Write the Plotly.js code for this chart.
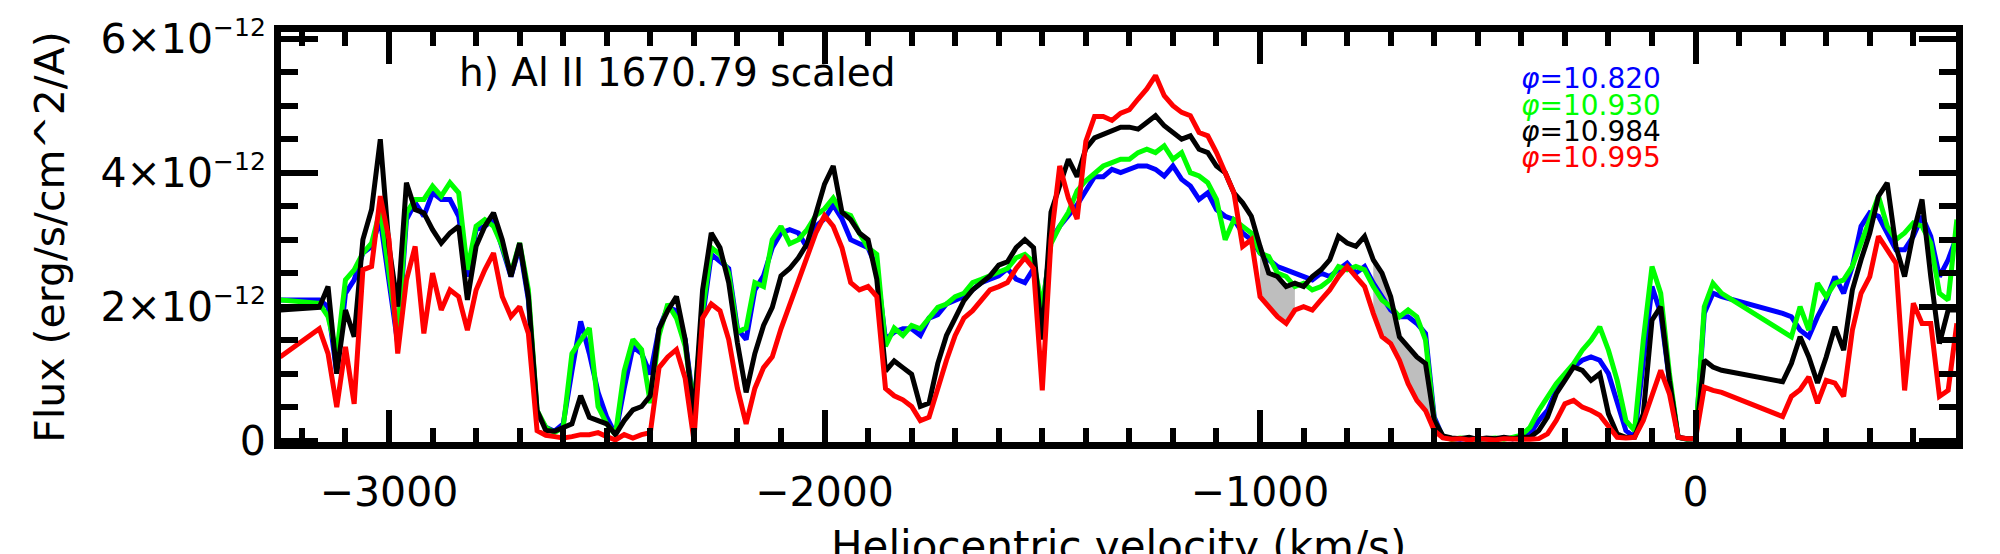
<!DOCTYPE html>
<html>
<head>
<meta charset="utf-8">
<script src="https://cdn.plot.ly/plotly-3.0.1.min.js"></script>
<style>
  body { margin: 0; background: white; }
  #graph { width: 2000px; height: 554px; }
</style>
</head>
<body>
<div id="graph"></div>
<script>
// heliocentric velocity grid (km/s); gap between 60 and 200
const velocity = [
  -3250,
  -3160, -3140, -3120, -3100, -3080, -3060, -3040, -3020, -3000, -2980,
  -2960, -2940, -2920, -2900, -2880, -2860, -2840, -2820, -2800, -2780,
  -2760, -2740, -2720, -2700, -2680, -2660, -2640, -2620, -2600, -2580,
  -2560, -2540, -2520, -2500, -2480, -2460, -2440, -2420, -2400, -2380,
  -2360, -2340, -2320, -2300, -2280, -2260, -2240, -2220, -2200, -2180,
  -2160, -2140, -2120, -2100, -2080, -2060, -2040, -2020, -2000, -1980,
  -1960, -1940, -1920, -1900, -1880, -1860, -1840, -1820, -1800, -1780,
  -1760, -1740, -1720, -1700, -1680, -1660, -1640, -1620, -1600, -1580,
  -1560, -1540, -1520, -1500, -1480, -1460, -1440, -1420, -1400, -1380,
  -1360, -1340, -1320, -1300, -1280, -1260, -1240, -1220, -1200, -1180,
  -1160, -1140, -1120, -1100, -1080, -1060, -1040, -1020, -1000, -980,
  -960, -940, -920, -900, -880, -860, -840, -820, -800, -780,
  -760, -740, -720, -700, -680, -660, -640, -620, -600, -580,
  -560, -540, -520, -500, -480, -460, -440, -420, -400, -380,
  -360, -340, -320, -300, -280, -260, -240, -220, -200, -180,
  -160, -140, -120, -100, -80, -60, -40, -20, 0, 20,
  40, 60,
  200, 220, 240, 260, 280, 300, 320, 340, 360, 380,
  400, 420, 440, 460, 480, 500, 520, 540, 560, 580,
  600
]

// flux in units of 1e-12 erg/s/cm^2/A
const flux10820 = [
  2.1,
  2.1, 2.0, 1.0, 2.2, 2.4, 2.8, 2.9, 3.3, 2.4, 1.45,
  3.3, 3.55, 3.35, 3.7, 3.6, 3.6, 3.35, 2.45, 3.15, 3.2,
  3.3, 2.9, 2.45, 2.9, 2.1, 0.4, 0.2, 0.14, 0.25, 1.04,
  1.78, 1.3, 0.72, 0.35, 0.09, 0.78, 1.4, 1.3, 0.99, 1.67,
  1.99, 1.94, 1.51, 0.51, 1.83, 2.78, 2.67, 2.57, 1.67, 1.51,
  2.25, 2.46, 2.88, 3.1, 3.15, 3.1, 2.88, 3.2, 3.31, 3.52,
  3.31, 3.0, 2.94, 2.88, 2.57, 1.51, 1.62, 1.67, 1.67, 1.57,
  1.83, 1.88, 2.04, 2.09, 2.15, 2.25, 2.36, 2.41, 2.46, 2.57,
  2.41, 2.36, 2.57, 1.94, 3.0, 3.2, 3.36, 3.52, 3.73, 3.94,
  3.94, 4.05, 4.0, 4.05, 4.1, 4.1, 4.05, 3.95, 4.1, 3.9,
  3.8, 3.6, 3.7, 3.45, 3.35, 3.3, 3.1, 3.0, 2.8, 2.7,
  2.6, 2.55, 2.5, 2.45, 2.4, 2.5, 2.45, 2.55, 2.65, 2.5,
  2.6, 2.35, 2.15, 1.95, 1.85, 1.85, 1.75, 1.6, 0.35, 0.05,
  0.03, 0.02, 0.04, 0.02, 0.03, 0.02, 0.04, 0.03, 0.05, 0.1,
  0.3, 0.45, 0.75, 0.95, 1.1, 1.2, 1.25, 1.2, 1.0, 0.6,
  0.15, 0.05, 1.1, 2.3, 1.9, 0.9, 0.05, 0.02, 0.03, 1.9,
  2.2, 2.15,
  1.9, 1.85, 1.65, 1.55, 1.85, 2.1, 2.45, 2.2, 2.6, 3.2,
  3.4, 3.35, 3.1, 2.85, 2.85, 3.05, 3.35, 3.05, 2.45, 2.7,
  3.05
]

const flux10930 = [
  2.1,
  2.05, 1.85, 1.3, 2.4, 2.55, 2.8, 2.95, 3.45, 2.45, 1.55,
  3.4, 3.6, 3.6, 3.8, 3.65, 3.85, 3.7, 2.55, 3.2, 3.3,
  3.2, 2.9, 2.5, 2.95, 2.25, 0.45, 0.2, 0.12, 0.2, 1.3,
  1.5, 1.68, 0.51, 0.25, 0.09, 1.04, 1.51, 1.36, 0.56, 1.57,
  2.04, 1.83, 1.41, 0.51, 1.94, 2.88, 2.78, 2.5, 1.62, 1.68,
  2.36, 2.3, 3.0, 3.2, 2.94, 3.0, 3.15, 3.36, 3.46, 3.62,
  3.41, 3.36, 3.1, 2.88, 2.78, 1.41, 1.68, 1.57, 1.72, 1.67,
  1.83, 1.99, 2.04, 2.15, 2.2, 2.36, 2.41, 2.46, 2.52, 2.57,
  2.73, 2.78, 2.67, 1.99, 2.94, 3.2, 3.41, 3.73, 3.88, 3.99,
  4.1, 4.15, 4.2, 4.2, 4.3, 4.35, 4.3, 4.4, 4.2, 4.3,
  4.0, 3.95, 3.85, 3.6, 3.0, 3.3, 3.2, 3.1, 2.8, 2.75,
  2.5, 2.45, 2.3, 2.35, 2.25, 2.3, 2.4, 2.6, 2.55, 2.6,
  2.55, 2.3, 2.1, 2.0, 1.85, 1.95, 1.85, 1.5, 0.3, 0.06,
  0.02, 0.04, 0.03, 0.02, 0.03, 0.04, 0.02, 0.05, 0.08, 0.2,
  0.45, 0.65, 0.85, 1.0, 1.15, 1.35, 1.5, 1.7, 1.35, 0.9,
  0.3, 0.15, 1.5, 2.6, 2.2, 1.0, 0.05, 0.02, 0.03, 2.0,
  2.35, 2.2,
  1.65, 1.55, 2.0, 1.65, 2.35, 2.15, 2.35, 2.4, 2.6, 2.95,
  3.35, 3.65, 3.2, 3.0, 3.1, 3.25, 3.2, 2.95, 2.2, 2.1,
  3.3
]

const flux10984 = [
  1.95,
  1.99, 2.3, 1.0, 1.95, 1.55, 3.0, 3.45, 4.5, 2.9, 2.0,
  3.85, 3.45, 3.4, 3.15, 2.95, 3.1, 3.2, 2.1, 2.9, 3.2,
  3.4, 3.0, 2.45, 2.95, 2.15, 0.45, 0.15, 0.14, 0.2, 0.25,
  0.67, 0.35, 0.3, 0.25, 0.09, 0.3, 0.46, 0.51, 0.67, 1.67,
  1.94, 2.15, 1.51, 0.35, 2.25, 3.1, 2.88, 2.36, 1.46, 0.72,
  1.3, 1.72, 1.99, 2.46, 2.57, 2.73, 2.94, 3.41, 3.83, 4.1,
  3.41, 3.3, 3.1, 3.0, 2.41, 1.04, 1.19, 1.09, 0.99, 0.51,
  0.56, 1.15, 1.57, 1.83, 2.09, 2.25, 2.36, 2.46, 2.62, 2.67,
  2.88, 3.0, 2.88, 1.51, 3.41, 3.83, 4.2, 3.94, 4.36, 4.52,
  4.57, 4.62, 4.68, 4.68, 4.65, 4.75, 4.85, 4.7, 4.6, 4.5,
  4.55, 4.35, 4.3, 4.1, 4.0, 3.7, 3.55, 3.35, 2.9, 2.5,
  2.45, 2.3, 2.35, 2.3, 2.45, 2.55, 2.7, 3.05, 2.95, 2.9,
  3.05, 2.7, 2.5, 2.15, 1.55, 1.4, 1.25, 1.15, 0.3, 0.07,
  0.04, 0.03, 0.05, 0.02, 0.04, 0.03, 0.05, 0.03, 0.05, 0.05,
  0.15, 0.35, 0.7, 0.9, 1.1, 1.05, 0.9, 1.0, 0.4, 0.1,
  0.05, 0.05, 0.4, 1.8, 2.0, 0.9, 0.05, 0.03, 0.03, 1.2,
  1.1, 1.05,
  0.88, 1.15, 1.55, 1.25, 0.86, 1.25, 1.7, 1.35, 2.25, 2.7,
  3.1, 3.65, 3.85, 2.9, 2.45, 3.1, 3.6, 2.45, 1.45, 1.95,
  1.95
]

const flux10995 = [
  1.25,
  1.67, 1.3, 0.5, 1.4, 0.55, 2.55, 2.6, 3.65, 3.0, 1.3,
  2.4, 2.9, 1.6, 2.5, 1.95, 2.25, 2.15, 1.65, 2.25, 2.55,
  2.8, 2.15, 1.85, 2.0, 1.6, 0.15, 0.08, 0.06, 0.04, 0.06,
  0.09, 0.09, 0.12, 0.06, 0.01, 0.09, 0.04, 0.09, 0.12, 1.09,
  1.25, 1.36, 0.93, 0.01, 1.83, 2.04, 1.94, 1.51, 0.78, 0.25,
  0.78, 1.09, 1.25, 1.67, 2.04, 2.41, 2.73, 3.1, 3.36, 3.2,
  2.88, 2.36, 2.25, 2.3, 2.15, 0.78, 0.67, 0.61, 0.51, 0.3,
  0.35, 0.78, 1.2, 1.57, 1.83, 1.94, 2.09, 2.25, 2.3, 2.36,
  2.57, 2.73, 2.57, 0.75, 3.0, 4.1, 3.62, 3.31, 4.47, 4.84,
  4.84, 4.78, 4.89, 4.94, 5.1, 5.25, 5.45, 5.15, 5.0, 4.9,
  4.85, 4.6, 4.55, 4.3, 4.0, 3.7, 2.9, 3.0, 2.15, 2.0,
  1.85, 1.75, 1.95, 2.0, 1.95, 2.1, 2.25, 2.45, 2.6, 2.45,
  2.3, 1.9, 1.55, 1.45, 1.2, 0.85, 0.6, 0.45, 0.15, 0.04,
  0.02, 0.03, 0.01, 0.03, 0.02, 0.01, 0.03, 0.02, 0.02, 0.02,
  0.03, 0.1, 0.3, 0.55, 0.6, 0.5, 0.45, 0.38, 0.2, 0.05,
  0.04, 0.05, 0.3, 0.7, 1.05, 0.7, 0.05, 0.03, 0.03, 0.8,
  0.75, 0.72,
  0.36, 0.66, 0.76, 0.95, 0.56, 0.9, 0.86, 0.66, 1.65, 2.2,
  2.45, 3.05, 2.85, 2.65, 0.75, 2.05, 1.75, 1.75, 0.66, 0.75,
  1.75
]

const phases = ["10.820", "10.930", "10.984", "10.995"]
const colors = ["#0000ff", "#00ff00", "#000000", "#ff0000"]
const series = [flux10820, flux10930, flux10984, flux10995]

// shaded velocity intervals (between the 10.984 and 10.995 spectra)
const shadedRanges = [[-1000, -920], [-740, -600]]

const yTickVals = [0, 2, 4, 6]
const yTickText = yTickVals.map(function (v) {
  return v === 0 ? "0" : v + '×10<sup><span style="font-size:25px">−12</span></sup>'
})

const data = []

shadedRanges.forEach(function (r) {
  const xs = [], top = [], bottom = []
  velocity.forEach(function (v, i) {
    if (v >= r[0] && v <= r[1]) {
      xs.push(v)
      top.push(flux10984[i])
      bottom.push(flux10995[i])
    }
  })
  data.push({
    x: xs.concat(xs.slice().reverse()),
    y: top.concat(bottom.slice().reverse()),
    mode: "lines",
    fill: "toself",
    fillcolor: "#bebebe",
    line: { width: 0 },
    hoverinfo: "skip",
  })
})

series.forEach(function (s, k) {
  data.push({
    x: velocity,
    y: s,
    mode: "lines",
    name: "φ=" + phases[k],
    line: { color: colors[k], width: 5 },
  })
})

const legendY = [5.41, 5.01, 4.61, 4.23]
const annotations = [
  {
    x: -2843, y: 5.49, xref: "x", yref: "y",
    text: "h) Al II 1670.79 scaled",
    showarrow: false, xanchor: "left", yanchor: "middle",
    font: { size: 39, color: "black" },
  },
  {
    // x axis title, placed low so that it is cut by the bottom edge as in the original
    x: 0.5, y: -0.19, xref: "paper", yref: "paper",
    text: "Heliocentric velocity (km/s)",
    showarrow: false, xanchor: "center", yanchor: "top",
    font: { size: 42, color: "black" },
  },
]
phases.forEach(function (p, k) {
  annotations.push({
    x: -405, y: legendY[k], xref: "x", yref: "y",
    text: "<i>φ</i>=" + p,
    showarrow: false, xanchor: "left", yanchor: "middle",
    font: { size: 28, color: colors[k] },
  })
})

const layout = {
  width: 2000,
  height: 554,
  margin: { l: 281, r: 44, t: 32, b: 112 },
  paper_bgcolor: "white",
  plot_bgcolor: "white",
  showlegend: false,
  font: { family: "DejaVu Sans", color: "black" },
  xaxis: {
    range: [-3248, 598],
    tickmode: "linear", tick0: 0, dtick: 1000,
    ticks: "inside", ticklen: 32, tickwidth: 6, tickcolor: "black",
    minor: { tick0: 0, dtick: 100, ticks: "inside", ticklen: 14, tickwidth: 6, tickcolor: "black" },
    showline: true, linewidth: 7, linecolor: "black", mirror: "allticks",
    showgrid: false, zeroline: false,
    tickfont: { size: 41 },
    ticklabelstandoff: 8,
  },
  yaxis: {
    range: [-0.02, 6.1],
    tickmode: "array", tickvals: yTickVals, ticktext: yTickText,
    ticks: "inside", ticklen: 37, tickwidth: 6, tickcolor: "black",
    minor: { tick0: 0, dtick: 0.5, ticks: "inside", ticklen: 17, tickwidth: 6, tickcolor: "black" },
    showline: true, linewidth: 7, linecolor: "black", mirror: "allticks",
    showgrid: false, zeroline: false,
    tickfont: { size: 41 },
    ticklabelstandoff: 0,
    title: { text: "Flux (erg/s/cm^2/A)", font: { size: 41 }, standoff: 26 },
  },
  annotations: annotations,
}

Plotly.newPlot("graph", data, layout, { staticPlot: true })
</script>
</body>
</html>
